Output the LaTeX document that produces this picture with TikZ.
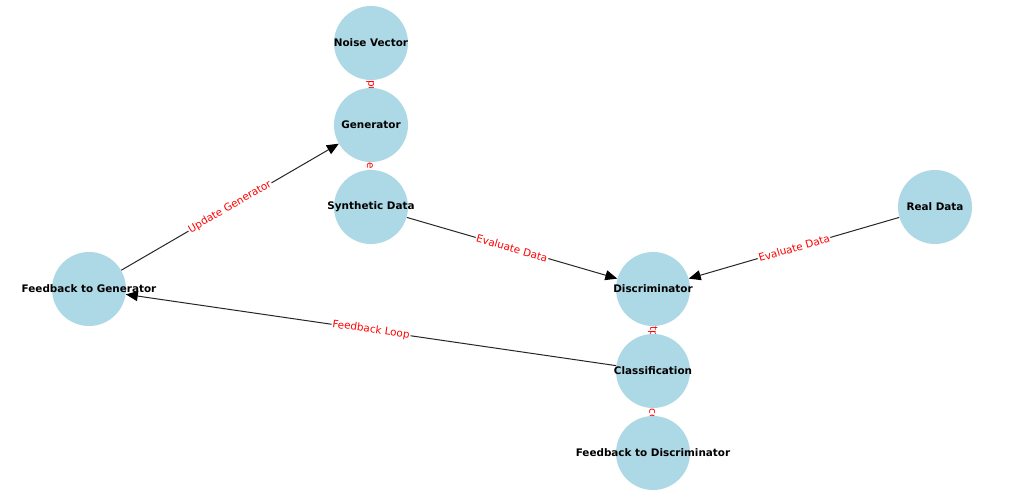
\documentclass[tikz,border=0pt]{standalone}
\usepackage{fontspec}
\setmainfont{DejaVu Sans}
\usetikzlibrary{arrows.meta,backgrounds}
\definecolor{nodeblue}{HTML}{ADD8E6}
\definecolor{edgegray}{HTML}{262626}
\tikzset{
  gnode/.style={circle,fill=nodeblue,draw=none,minimum size=74pt,inner sep=0pt},
  gtext/.style={font=\fontsize{10.4}{12}\selectfont\bfseries,text=black},
  gedge/.style={draw=edgegray,line width=1pt,-{Triangle[length=12pt,width=10pt,color=black]}},
  elabel/.style={font=\fontsize{10.4}{12}\selectfont,text=red,fill=white,inner sep=1pt,sloped}
}
\begin{document}
\begin{tikzpicture}[x=1pt,y=-1pt]
\useasboundingbox (0,0) rectangle (1024,497);
\node[gnode] (nv) at (371,43) {};
\node[gnode] (gen) at (371,125) {};
\node[gnode] (syn) at (371,207) {};
\node[gnode] (real) at (935,207) {};
\node[gnode] (ftg) at (89,289) {};
\node[gnode] (disc) at (653,289) {};
\node[gnode] (cls) at (653,371) {};
\node[gnode] (ftd) at (653,453) {};
\node[gtext] at (nv) {Noise Vector};
\node[gtext] at (gen) {Generator};
\node[gtext] at (syn) {Synthetic Data};
\node[gtext] at (real) {Real Data};
\node[gtext] at (ftg) {Feedback to Generator};
\node[gtext] at (disc) {Discriminator};
\node[gtext] at (cls) {Classification};
\node[gtext] at (ftd) {Feedback to Discriminator};
\begin{scope}[on background layer]
\fill[white] (0,0) rectangle (1024,497);
\draw[gedge] (nv) -- node[elabel]{Input} (gen);
\draw[gedge] (gen) -- node[elabel]{Generate} (syn);
\draw[gedge] (disc) -- node[elabel]{Output} (cls);
\draw[gedge] (cls) -- node[elabel]{Process} (ftd);
\draw[gedge] (ftg) -- node[elabel]{Update Generator} (gen);
\draw[gedge] (syn) -- node[elabel]{Evaluate Data} (disc);
\draw[gedge] (real) -- node[elabel]{Evaluate Data} (disc);
\draw[gedge] (cls) -- node[elabel]{Feedback Loop} (ftg);
\end{scope}
\end{tikzpicture}
\end{document}
